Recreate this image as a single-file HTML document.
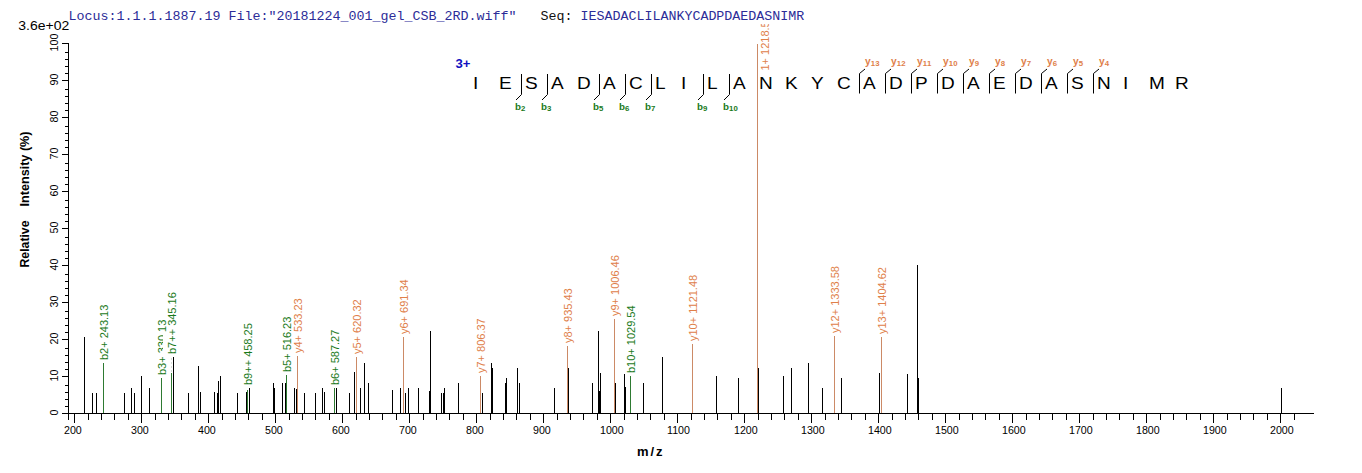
<!DOCTYPE html><html><head><meta charset="utf-8"><style>html,body{margin:0;padding:0;background:#fff;overflow:hidden}svg{display:block}</style></head><body>
<svg width="1362" height="473" viewBox="0 0 1362 473" shape-rendering="crispEdges">
<rect x="0" y="0" width="1362" height="473" fill="#fff"/>
<defs><clipPath id="pc"><rect x="0" y="24" width="1362" height="449"/></clipPath></defs>
<text x="68.5" y="20" font-family="Liberation Mono" font-size="13.33" fill="#2c2c98" xml:space="preserve">Locus:1.1.1.1887.19 File:"20181224_001_gel_CSB_2RD.wiff"   <tspan fill="#111">Seq:</tspan> IESADACLILANKYCADPDAEDASNIMR</text>
<text x="18.3" y="30" font-family="Liberation Sans" font-size="13.33" textLength="51" lengthAdjust="spacingAndGlyphs" fill="#000">3.6e+02</text>
<rect x="62" y="413" width="1252" height="1" fill="#000"/>
<rect x="68" y="43" width="1" height="377" fill="#000"/>
<rect x="62" y="413" width="6" height="1" fill="#000"/>
<rect x="65" y="406" width="3" height="1" fill="#000"/>
<rect x="65" y="399" width="3" height="1" fill="#000"/>
<rect x="65" y="392" width="3" height="1" fill="#000"/>
<rect x="65" y="385" width="3" height="1" fill="#000"/>
<text transform="translate(58,412.5) rotate(-90)" text-anchor="middle" font-family="Liberation Sans" font-size="10.67" fill="#000">0</text>
<rect x="62" y="376" width="6" height="1" fill="#000"/>
<rect x="65" y="369" width="3" height="1" fill="#000"/>
<rect x="65" y="362" width="3" height="1" fill="#000"/>
<rect x="65" y="355" width="3" height="1" fill="#000"/>
<rect x="65" y="348" width="3" height="1" fill="#000"/>
<text transform="translate(58,375.5) rotate(-90)" text-anchor="middle" font-family="Liberation Sans" font-size="10.67" fill="#000">10</text>
<rect x="62" y="339" width="6" height="1" fill="#000"/>
<rect x="65" y="332" width="3" height="1" fill="#000"/>
<rect x="65" y="325" width="3" height="1" fill="#000"/>
<rect x="65" y="318" width="3" height="1" fill="#000"/>
<rect x="65" y="311" width="3" height="1" fill="#000"/>
<text transform="translate(58,338.5) rotate(-90)" text-anchor="middle" font-family="Liberation Sans" font-size="10.67" fill="#000">20</text>
<rect x="62" y="302" width="6" height="1" fill="#000"/>
<rect x="65" y="295" width="3" height="1" fill="#000"/>
<rect x="65" y="288" width="3" height="1" fill="#000"/>
<rect x="65" y="281" width="3" height="1" fill="#000"/>
<rect x="65" y="274" width="3" height="1" fill="#000"/>
<text transform="translate(58,301.5) rotate(-90)" text-anchor="middle" font-family="Liberation Sans" font-size="10.67" fill="#000">30</text>
<rect x="62" y="265" width="6" height="1" fill="#000"/>
<rect x="65" y="258" width="3" height="1" fill="#000"/>
<rect x="65" y="251" width="3" height="1" fill="#000"/>
<rect x="65" y="244" width="3" height="1" fill="#000"/>
<rect x="65" y="237" width="3" height="1" fill="#000"/>
<text transform="translate(58,264.5) rotate(-90)" text-anchor="middle" font-family="Liberation Sans" font-size="10.67" fill="#000">40</text>
<rect x="62" y="228" width="6" height="1" fill="#000"/>
<rect x="65" y="221" width="3" height="1" fill="#000"/>
<rect x="65" y="214" width="3" height="1" fill="#000"/>
<rect x="65" y="207" width="3" height="1" fill="#000"/>
<rect x="65" y="200" width="3" height="1" fill="#000"/>
<text transform="translate(58,227.5) rotate(-90)" text-anchor="middle" font-family="Liberation Sans" font-size="10.67" fill="#000">50</text>
<rect x="62" y="191" width="6" height="1" fill="#000"/>
<rect x="65" y="184" width="3" height="1" fill="#000"/>
<rect x="65" y="177" width="3" height="1" fill="#000"/>
<rect x="65" y="170" width="3" height="1" fill="#000"/>
<rect x="65" y="163" width="3" height="1" fill="#000"/>
<text transform="translate(58,190.5) rotate(-90)" text-anchor="middle" font-family="Liberation Sans" font-size="10.67" fill="#000">60</text>
<rect x="62" y="154" width="6" height="1" fill="#000"/>
<rect x="65" y="147" width="3" height="1" fill="#000"/>
<rect x="65" y="140" width="3" height="1" fill="#000"/>
<rect x="65" y="133" width="3" height="1" fill="#000"/>
<rect x="65" y="126" width="3" height="1" fill="#000"/>
<text transform="translate(58,153.5) rotate(-90)" text-anchor="middle" font-family="Liberation Sans" font-size="10.67" fill="#000">70</text>
<rect x="62" y="117" width="6" height="1" fill="#000"/>
<rect x="65" y="110" width="3" height="1" fill="#000"/>
<rect x="65" y="103" width="3" height="1" fill="#000"/>
<rect x="65" y="96" width="3" height="1" fill="#000"/>
<rect x="65" y="89" width="3" height="1" fill="#000"/>
<text transform="translate(58,116.5) rotate(-90)" text-anchor="middle" font-family="Liberation Sans" font-size="10.67" fill="#000">80</text>
<rect x="62" y="80" width="6" height="1" fill="#000"/>
<rect x="65" y="73" width="3" height="1" fill="#000"/>
<rect x="65" y="66" width="3" height="1" fill="#000"/>
<rect x="65" y="59" width="3" height="1" fill="#000"/>
<rect x="65" y="52" width="3" height="1" fill="#000"/>
<text transform="translate(58,79.5) rotate(-90)" text-anchor="middle" font-family="Liberation Sans" font-size="10.67" fill="#000">90</text>
<rect x="62" y="43" width="6" height="1" fill="#000"/>
<text transform="translate(58,42.5) rotate(-90)" text-anchor="middle" font-family="Liberation Sans" font-size="10.67" fill="#000">100</text>
<rect x="74" y="414" width="1" height="9" fill="#000"/>
<text x="64" y="434" font-family="Liberation Sans" font-size="10.67" fill="#000">200</text>
<rect x="88" y="414" width="1" height="6" fill="#000"/>
<rect x="101" y="414" width="1" height="6" fill="#000"/>
<rect x="114" y="414" width="1" height="6" fill="#000"/>
<rect x="128" y="414" width="1" height="6" fill="#000"/>
<rect x="141" y="414" width="1" height="9" fill="#000"/>
<text x="131" y="434" font-family="Liberation Sans" font-size="10.67" fill="#000">300</text>
<rect x="155" y="414" width="1" height="6" fill="#000"/>
<rect x="168" y="414" width="1" height="6" fill="#000"/>
<rect x="181" y="414" width="1" height="6" fill="#000"/>
<rect x="195" y="414" width="1" height="6" fill="#000"/>
<rect x="208" y="414" width="1" height="9" fill="#000"/>
<text x="198" y="434" font-family="Liberation Sans" font-size="10.67" fill="#000">400</text>
<rect x="222" y="414" width="1" height="6" fill="#000"/>
<rect x="235" y="414" width="1" height="6" fill="#000"/>
<rect x="248" y="414" width="1" height="6" fill="#000"/>
<rect x="262" y="414" width="1" height="6" fill="#000"/>
<rect x="275" y="414" width="1" height="9" fill="#000"/>
<text x="265" y="434" font-family="Liberation Sans" font-size="10.67" fill="#000">500</text>
<rect x="289" y="414" width="1" height="6" fill="#000"/>
<rect x="302" y="414" width="1" height="6" fill="#000"/>
<rect x="315" y="414" width="1" height="6" fill="#000"/>
<rect x="329" y="414" width="1" height="6" fill="#000"/>
<rect x="342" y="414" width="1" height="9" fill="#000"/>
<text x="332" y="434" font-family="Liberation Sans" font-size="10.67" fill="#000">600</text>
<rect x="356" y="414" width="1" height="6" fill="#000"/>
<rect x="369" y="414" width="1" height="6" fill="#000"/>
<rect x="382" y="414" width="1" height="6" fill="#000"/>
<rect x="396" y="414" width="1" height="6" fill="#000"/>
<rect x="409" y="414" width="1" height="9" fill="#000"/>
<text x="399" y="434" font-family="Liberation Sans" font-size="10.67" fill="#000">700</text>
<rect x="423" y="414" width="1" height="6" fill="#000"/>
<rect x="436" y="414" width="1" height="6" fill="#000"/>
<rect x="449" y="414" width="1" height="6" fill="#000"/>
<rect x="463" y="414" width="1" height="6" fill="#000"/>
<rect x="476" y="414" width="1" height="9" fill="#000"/>
<text x="466" y="434" font-family="Liberation Sans" font-size="10.67" fill="#000">800</text>
<rect x="490" y="414" width="1" height="6" fill="#000"/>
<rect x="503" y="414" width="1" height="6" fill="#000"/>
<rect x="516" y="414" width="1" height="6" fill="#000"/>
<rect x="530" y="414" width="1" height="6" fill="#000"/>
<rect x="543" y="414" width="1" height="9" fill="#000"/>
<text x="533" y="434" font-family="Liberation Sans" font-size="10.67" fill="#000">900</text>
<rect x="557" y="414" width="1" height="6" fill="#000"/>
<rect x="570" y="414" width="1" height="6" fill="#000"/>
<rect x="583" y="414" width="1" height="6" fill="#000"/>
<rect x="597" y="414" width="1" height="6" fill="#000"/>
<rect x="610" y="414" width="1" height="9" fill="#000"/>
<text x="600" y="434" font-family="Liberation Sans" font-size="10.67" fill="#000">1000</text>
<rect x="624" y="414" width="1" height="6" fill="#000"/>
<rect x="637" y="414" width="1" height="6" fill="#000"/>
<rect x="650" y="414" width="1" height="6" fill="#000"/>
<rect x="664" y="414" width="1" height="6" fill="#000"/>
<rect x="677" y="414" width="1" height="9" fill="#000"/>
<text x="667" y="434" font-family="Liberation Sans" font-size="10.67" fill="#000">1100</text>
<rect x="691" y="414" width="1" height="6" fill="#000"/>
<rect x="704" y="414" width="1" height="6" fill="#000"/>
<rect x="717" y="414" width="1" height="6" fill="#000"/>
<rect x="731" y="414" width="1" height="6" fill="#000"/>
<rect x="744" y="414" width="1" height="9" fill="#000"/>
<text x="734" y="434" font-family="Liberation Sans" font-size="10.67" fill="#000">1200</text>
<rect x="758" y="414" width="1" height="6" fill="#000"/>
<rect x="771" y="414" width="1" height="6" fill="#000"/>
<rect x="784" y="414" width="1" height="6" fill="#000"/>
<rect x="798" y="414" width="1" height="6" fill="#000"/>
<rect x="811" y="414" width="1" height="9" fill="#000"/>
<text x="801" y="434" font-family="Liberation Sans" font-size="10.67" fill="#000">1300</text>
<rect x="825" y="414" width="1" height="6" fill="#000"/>
<rect x="838" y="414" width="1" height="6" fill="#000"/>
<rect x="851" y="414" width="1" height="6" fill="#000"/>
<rect x="865" y="414" width="1" height="6" fill="#000"/>
<rect x="878" y="414" width="1" height="9" fill="#000"/>
<text x="868" y="434" font-family="Liberation Sans" font-size="10.67" fill="#000">1400</text>
<rect x="892" y="414" width="1" height="6" fill="#000"/>
<rect x="905" y="414" width="1" height="6" fill="#000"/>
<rect x="918" y="414" width="1" height="6" fill="#000"/>
<rect x="932" y="414" width="1" height="6" fill="#000"/>
<rect x="945" y="414" width="1" height="9" fill="#000"/>
<text x="935" y="434" font-family="Liberation Sans" font-size="10.67" fill="#000">1500</text>
<rect x="959" y="414" width="1" height="6" fill="#000"/>
<rect x="972" y="414" width="1" height="6" fill="#000"/>
<rect x="985" y="414" width="1" height="6" fill="#000"/>
<rect x="999" y="414" width="1" height="6" fill="#000"/>
<rect x="1012" y="414" width="1" height="9" fill="#000"/>
<text x="1002" y="434" font-family="Liberation Sans" font-size="10.67" fill="#000">1600</text>
<rect x="1026" y="414" width="1" height="6" fill="#000"/>
<rect x="1039" y="414" width="1" height="6" fill="#000"/>
<rect x="1052" y="414" width="1" height="6" fill="#000"/>
<rect x="1066" y="414" width="1" height="6" fill="#000"/>
<rect x="1079" y="414" width="1" height="9" fill="#000"/>
<text x="1069" y="434" font-family="Liberation Sans" font-size="10.67" fill="#000">1700</text>
<rect x="1093" y="414" width="1" height="6" fill="#000"/>
<rect x="1106" y="414" width="1" height="6" fill="#000"/>
<rect x="1119" y="414" width="1" height="6" fill="#000"/>
<rect x="1133" y="414" width="1" height="6" fill="#000"/>
<rect x="1146" y="414" width="1" height="9" fill="#000"/>
<text x="1136" y="434" font-family="Liberation Sans" font-size="10.67" fill="#000">1800</text>
<rect x="1160" y="414" width="1" height="6" fill="#000"/>
<rect x="1173" y="414" width="1" height="6" fill="#000"/>
<rect x="1186" y="414" width="1" height="6" fill="#000"/>
<rect x="1200" y="414" width="1" height="6" fill="#000"/>
<rect x="1213" y="414" width="1" height="9" fill="#000"/>
<text x="1203" y="434" font-family="Liberation Sans" font-size="10.67" fill="#000">1900</text>
<rect x="1227" y="414" width="1" height="6" fill="#000"/>
<rect x="1240" y="414" width="1" height="6" fill="#000"/>
<rect x="1253" y="414" width="1" height="6" fill="#000"/>
<rect x="1267" y="414" width="1" height="6" fill="#000"/>
<rect x="1280" y="414" width="1" height="9" fill="#000"/>
<text x="1270" y="434" font-family="Liberation Sans" font-size="10.67" fill="#000">2000</text>
<rect x="1294" y="414" width="1" height="6" fill="#000"/>
<text x="637" y="456" font-family="Liberation Sans" font-weight="bold" font-size="13" textLength="25.5" lengthAdjust="spacing" fill="#000">m/z</text>
<text transform="translate(29,267.5) rotate(-90)" font-family="Liberation Sans" font-weight="bold" font-size="12.2" textLength="47" lengthAdjust="spacingAndGlyphs" fill="#000">Relative</text>
<text transform="translate(29,206.5) rotate(-90)" font-family="Liberation Sans" font-weight="bold" font-size="12.2" textLength="75" lengthAdjust="spacingAndGlyphs" fill="#000">Intensity (%)</text>
<rect x="84" y="337" width="1" height="76" fill="#000"/>
<rect x="92" y="393" width="1" height="20" fill="#000"/>
<rect x="96" y="393" width="1" height="20" fill="#000"/>
<rect x="124" y="393" width="1" height="20" fill="#000"/>
<rect x="131" y="388" width="1" height="25" fill="#000"/>
<rect x="134" y="393" width="1" height="20" fill="#000"/>
<rect x="141" y="376" width="1" height="37" fill="#000"/>
<rect x="149" y="388" width="1" height="25" fill="#000"/>
<rect x="173" y="357" width="1" height="56" fill="#000"/>
<rect x="188" y="393" width="1" height="20" fill="#000"/>
<rect x="198" y="366" width="1" height="47" fill="#000"/>
<rect x="200" y="392" width="1" height="21" fill="#000"/>
<rect x="214" y="392" width="1" height="21" fill="#000"/>
<rect x="217" y="393" width="1" height="20" fill="#000"/>
<rect x="218" y="381" width="1" height="32" fill="#000"/>
<rect x="220" y="376" width="1" height="37" fill="#000"/>
<rect x="237" y="393" width="1" height="20" fill="#000"/>
<rect x="246" y="392" width="1" height="21" fill="#000"/>
<rect x="249" y="388" width="1" height="25" fill="#000"/>
<rect x="273" y="383" width="1" height="30" fill="#000"/>
<rect x="274" y="388" width="1" height="25" fill="#000"/>
<rect x="282" y="383" width="1" height="30" fill="#000"/>
<rect x="285" y="383" width="1" height="30" fill="#000"/>
<rect x="294" y="388" width="1" height="25" fill="#000"/>
<rect x="296" y="389" width="1" height="24" fill="#000"/>
<rect x="304" y="393" width="1" height="20" fill="#000"/>
<rect x="315" y="393" width="1" height="20" fill="#000"/>
<rect x="322" y="388" width="1" height="25" fill="#000"/>
<rect x="324" y="392" width="1" height="21" fill="#000"/>
<rect x="336" y="388" width="1" height="25" fill="#000"/>
<rect x="349" y="393" width="1" height="20" fill="#000"/>
<rect x="354" y="372" width="1" height="41" fill="#000"/>
<rect x="360" y="388" width="1" height="25" fill="#000"/>
<rect x="364" y="363" width="1" height="50" fill="#000"/>
<rect x="368" y="383" width="1" height="30" fill="#000"/>
<rect x="392" y="390" width="1" height="23" fill="#000"/>
<rect x="400" y="388" width="1" height="25" fill="#000"/>
<rect x="405" y="393" width="1" height="20" fill="#000"/>
<rect x="408" y="388" width="1" height="25" fill="#000"/>
<rect x="418" y="388" width="1" height="25" fill="#000"/>
<rect x="429" y="391" width="1" height="22" fill="#000"/>
<rect x="430" y="331" width="1" height="82" fill="#000"/>
<rect x="441" y="393" width="1" height="20" fill="#000"/>
<rect x="443" y="393" width="1" height="20" fill="#000"/>
<rect x="444" y="388" width="1" height="25" fill="#000"/>
<rect x="458" y="383" width="1" height="30" fill="#000"/>
<rect x="482" y="393" width="1" height="20" fill="#000"/>
<rect x="491" y="363" width="1" height="50" fill="#000"/>
<rect x="492" y="368" width="1" height="45" fill="#000"/>
<rect x="505" y="383" width="1" height="30" fill="#000"/>
<rect x="506" y="378" width="1" height="35" fill="#000"/>
<rect x="517" y="368" width="1" height="45" fill="#000"/>
<rect x="519" y="383" width="1" height="30" fill="#000"/>
<rect x="554" y="388" width="1" height="25" fill="#000"/>
<rect x="568" y="368" width="1" height="45" fill="#000"/>
<rect x="592" y="383" width="1" height="30" fill="#000"/>
<rect x="598" y="331" width="1" height="82" fill="#000"/>
<rect x="599" y="391" width="1" height="22" fill="#000"/>
<rect x="600" y="373" width="1" height="40" fill="#000"/>
<rect x="615" y="383" width="1" height="30" fill="#000"/>
<rect x="624" y="374" width="1" height="39" fill="#000"/>
<rect x="625" y="387" width="1" height="26" fill="#000"/>
<rect x="643" y="383" width="1" height="30" fill="#000"/>
<rect x="662" y="357" width="1" height="56" fill="#000"/>
<rect x="716" y="376" width="1" height="37" fill="#000"/>
<rect x="738" y="378" width="1" height="35" fill="#000"/>
<rect x="758" y="368" width="1" height="45" fill="#000"/>
<rect x="783" y="376" width="1" height="37" fill="#000"/>
<rect x="791" y="368" width="1" height="45" fill="#000"/>
<rect x="808" y="363" width="1" height="50" fill="#000"/>
<rect x="822" y="388" width="1" height="25" fill="#000"/>
<rect x="841" y="378" width="1" height="35" fill="#000"/>
<rect x="879" y="373" width="1" height="40" fill="#000"/>
<rect x="907" y="374" width="1" height="39" fill="#000"/>
<rect x="917" y="265" width="1" height="148" fill="#000"/>
<rect x="918" y="378" width="1" height="35" fill="#000"/>
<rect x="1281" y="388" width="1" height="25" fill="#000"/>
<rect x="103" y="363" width="1" height="50" fill="#2e7a32"/>
<rect x="161" y="378" width="1" height="35" fill="#2e7a32"/>
<rect x="171" y="373" width="1" height="40" fill="#2e7a32"/>
<rect x="247" y="390" width="1" height="23" fill="#2e7a32"/>
<rect x="286" y="375" width="1" height="38" fill="#2e7a32"/>
<rect x="334" y="388" width="1" height="25" fill="#2e7a32"/>
<rect x="630" y="376" width="1" height="37" fill="#2e7a32"/>
<rect x="297" y="356" width="1" height="57" fill="#cc8a66"/>
<rect x="356" y="357" width="1" height="56" fill="#cc8a66"/>
<rect x="403" y="337" width="1" height="76" fill="#cc8a66"/>
<rect x="480" y="376" width="1" height="37" fill="#cc8a66"/>
<rect x="567" y="346" width="1" height="67" fill="#cc8a66"/>
<rect x="614" y="319" width="1" height="94" fill="#cc8a66"/>
<rect x="692" y="344" width="1" height="69" fill="#cc8a66"/>
<rect x="757" y="44" width="1" height="369" fill="#cc8a66"/>
<rect x="834" y="336" width="1" height="77" fill="#cc8a66"/>
<rect x="881" y="337" width="1" height="76" fill="#cc8a66"/>
<path d="M171.5 358 V373" stroke="#d6ddd6" stroke-width="1" stroke-dasharray="2,2"/>
<text transform="translate(108,360) rotate(-90)" font-family="Liberation Sans" font-size="11" fill="#1a7a1a" shape-rendering="auto">b2+ 243.13</text>
<text transform="translate(166,375) rotate(-90)" font-family="Liberation Sans" font-size="11" fill="#1a7a1a" shape-rendering="auto">b3+ 330.13</text>
<rect x="162.5" y="332" width="15" height="22" fill="#fff"/>
<text transform="translate(176,354) rotate(-90)" font-family="Liberation Sans" font-size="11" fill="#1a7a1a" shape-rendering="auto">b7++ 345.16</text>
<text transform="translate(252,385) rotate(-90)" font-family="Liberation Sans" font-size="11" fill="#1a7a1a" shape-rendering="auto">b9++ 458.25</text>
<text transform="translate(291,372) rotate(-90)" font-family="Liberation Sans" font-size="11" fill="#1a7a1a" shape-rendering="auto">b5+ 516.23</text>
<text transform="translate(302,353) rotate(-90)" font-family="Liberation Sans" font-size="11" fill="#e0804a" shape-rendering="auto">y4+ 533.23</text>
<text transform="translate(339,385) rotate(-90)" font-family="Liberation Sans" font-size="11" fill="#1a7a1a" shape-rendering="auto">b6+ 587.27</text>
<text transform="translate(361,354) rotate(-90)" font-family="Liberation Sans" font-size="11" fill="#e0804a" shape-rendering="auto">y5+ 620.32</text>
<text transform="translate(408,334) rotate(-90)" font-family="Liberation Sans" font-size="11" fill="#e0804a" shape-rendering="auto">y6+ 691.34</text>
<text transform="translate(485,373) rotate(-90)" font-family="Liberation Sans" font-size="11" fill="#e0804a" shape-rendering="auto">y7+ 806.37</text>
<text transform="translate(572,343) rotate(-90)" font-family="Liberation Sans" font-size="11" fill="#e0804a" shape-rendering="auto">y8+ 935.43</text>
<text transform="translate(619,316) rotate(-90)" font-family="Liberation Sans" font-size="11" fill="#e0804a" shape-rendering="auto">y9+ 1006.46</text>
<text transform="translate(635,373) rotate(-90)" font-family="Liberation Sans" font-size="11" fill="#1a7a1a" shape-rendering="auto">b10+ 1029.54</text>
<text transform="translate(697,341) rotate(-90)" font-family="Liberation Sans" font-size="11" fill="#e0804a" shape-rendering="auto">y10+ 1121.48</text>
<text transform="translate(839,333) rotate(-90)" font-family="Liberation Sans" font-size="11" fill="#e0804a" shape-rendering="auto">y12+ 1333.58</text>
<text transform="translate(886,334) rotate(-90)" font-family="Liberation Sans" font-size="11" fill="#e0804a" shape-rendering="auto">y13+ 1404.62</text>
<g clip-path="url(#pc)"><text transform="translate(769,70.5) rotate(-90)" font-family="Liberation Sans" font-size="11" fill="#e0804a">1+ 1218.52</text></g>
<text x="455.5" y="68" font-family="Liberation Sans" font-weight="bold" font-size="12.5" textLength="15" lengthAdjust="spacingAndGlyphs" fill="#1010c0">3+</text>
<text transform="translate(473,89) scale(1.12,1)" font-family="Liberation Sans" font-size="17" fill="#000">I</text>
<text transform="translate(499,89) scale(1.12,1)" font-family="Liberation Sans" font-size="17" fill="#000">E</text>
<text transform="translate(525,89) scale(1.12,1)" font-family="Liberation Sans" font-size="17" fill="#000">S</text>
<text transform="translate(551,89) scale(1.12,1)" font-family="Liberation Sans" font-size="17" fill="#000">A</text>
<text transform="translate(577,89) scale(1.12,1)" font-family="Liberation Sans" font-size="17" fill="#000">D</text>
<text transform="translate(603,89) scale(1.12,1)" font-family="Liberation Sans" font-size="17" fill="#000">A</text>
<text transform="translate(629,89) scale(1.12,1)" font-family="Liberation Sans" font-size="17" fill="#000">C</text>
<text transform="translate(655,89) scale(1.12,1)" font-family="Liberation Sans" font-size="17" fill="#000">L</text>
<text transform="translate(681,89) scale(1.12,1)" font-family="Liberation Sans" font-size="17" fill="#000">I</text>
<text transform="translate(707,89) scale(1.12,1)" font-family="Liberation Sans" font-size="17" fill="#000">L</text>
<text transform="translate(733,89) scale(1.12,1)" font-family="Liberation Sans" font-size="17" fill="#000">A</text>
<text transform="translate(759,89) scale(1.12,1)" font-family="Liberation Sans" font-size="17" fill="#000">N</text>
<text transform="translate(785,89) scale(1.12,1)" font-family="Liberation Sans" font-size="17" fill="#000">K</text>
<text transform="translate(811,89) scale(1.12,1)" font-family="Liberation Sans" font-size="17" fill="#000">Y</text>
<text transform="translate(837,89) scale(1.12,1)" font-family="Liberation Sans" font-size="17" fill="#000">C</text>
<text transform="translate(863,89) scale(1.12,1)" font-family="Liberation Sans" font-size="17" fill="#000">A</text>
<text transform="translate(889,89) scale(1.12,1)" font-family="Liberation Sans" font-size="17" fill="#000">D</text>
<text transform="translate(915,89) scale(1.12,1)" font-family="Liberation Sans" font-size="17" fill="#000">P</text>
<text transform="translate(941,89) scale(1.12,1)" font-family="Liberation Sans" font-size="17" fill="#000">D</text>
<text transform="translate(967,89) scale(1.12,1)" font-family="Liberation Sans" font-size="17" fill="#000">A</text>
<text transform="translate(993,89) scale(1.12,1)" font-family="Liberation Sans" font-size="17" fill="#000">E</text>
<text transform="translate(1019,89) scale(1.12,1)" font-family="Liberation Sans" font-size="17" fill="#000">D</text>
<text transform="translate(1045,89) scale(1.12,1)" font-family="Liberation Sans" font-size="17" fill="#000">A</text>
<text transform="translate(1071,89) scale(1.12,1)" font-family="Liberation Sans" font-size="17" fill="#000">S</text>
<text transform="translate(1097,89) scale(1.12,1)" font-family="Liberation Sans" font-size="17" fill="#000">N</text>
<text transform="translate(1123,89) scale(1.12,1)" font-family="Liberation Sans" font-size="17" fill="#000">I</text>
<text transform="translate(1149,89) scale(1.12,1)" font-family="Liberation Sans" font-size="17" fill="#000">M</text>
<text transform="translate(1175,89) scale(1.12,1)" font-family="Liberation Sans" font-size="17" fill="#000">R</text>
<path d="M521.5 74 V94.5 L516 100" stroke="#000" stroke-width="1" fill="none" shape-rendering="auto"/>
<text x="515" y="110" font-family="Liberation Sans" font-weight="bold" font-size="9.8" fill="#1a7a1a">b<tspan font-size="7.8" dy="0.8" letter-spacing="0.3">2</tspan></text>
<path d="M547.5 74 V94.5 L542 100" stroke="#000" stroke-width="1" fill="none" shape-rendering="auto"/>
<text x="541" y="110" font-family="Liberation Sans" font-weight="bold" font-size="9.8" fill="#1a7a1a">b<tspan font-size="7.8" dy="0.8" letter-spacing="0.3">3</tspan></text>
<path d="M599.5 74 V94.5 L594 100" stroke="#000" stroke-width="1" fill="none" shape-rendering="auto"/>
<text x="593" y="110" font-family="Liberation Sans" font-weight="bold" font-size="9.8" fill="#1a7a1a">b<tspan font-size="7.8" dy="0.8" letter-spacing="0.3">5</tspan></text>
<path d="M625.5 74 V94.5 L620 100" stroke="#000" stroke-width="1" fill="none" shape-rendering="auto"/>
<text x="619" y="110" font-family="Liberation Sans" font-weight="bold" font-size="9.8" fill="#1a7a1a">b<tspan font-size="7.8" dy="0.8" letter-spacing="0.3">6</tspan></text>
<path d="M651.5 74 V94.5 L646 100" stroke="#000" stroke-width="1" fill="none" shape-rendering="auto"/>
<text x="645" y="110" font-family="Liberation Sans" font-weight="bold" font-size="9.8" fill="#1a7a1a">b<tspan font-size="7.8" dy="0.8" letter-spacing="0.3">7</tspan></text>
<path d="M703.5 74 V94.5 L698 100" stroke="#000" stroke-width="1" fill="none" shape-rendering="auto"/>
<text x="697" y="110" font-family="Liberation Sans" font-weight="bold" font-size="9.8" fill="#1a7a1a">b<tspan font-size="7.8" dy="0.8" letter-spacing="0.3">9</tspan></text>
<path d="M729.5 74 V94.5 L724 100" stroke="#000" stroke-width="1" fill="none" shape-rendering="auto"/>
<text x="723" y="110" font-family="Liberation Sans" font-weight="bold" font-size="9.8" fill="#1a7a1a">b<tspan font-size="7.8" dy="0.8" letter-spacing="0.3">10</tspan></text>
<path d="M859.5 93.5 V73.5 L865 69" stroke="#000" stroke-width="1" fill="none" shape-rendering="auto"/>
<text x="865" y="65" font-family="Liberation Sans" font-weight="bold" font-size="10.2" fill="#e0804a">y<tspan font-size="7.8" dy="0.8" letter-spacing="0.3">13</tspan></text>
<path d="M885.5 93.5 V73.5 L891 69" stroke="#000" stroke-width="1" fill="none" shape-rendering="auto"/>
<text x="891" y="65" font-family="Liberation Sans" font-weight="bold" font-size="10.2" fill="#e0804a">y<tspan font-size="7.8" dy="0.8" letter-spacing="0.3">12</tspan></text>
<path d="M911.5 93.5 V73.5 L917 69" stroke="#000" stroke-width="1" fill="none" shape-rendering="auto"/>
<text x="917" y="65" font-family="Liberation Sans" font-weight="bold" font-size="10.2" fill="#e0804a">y<tspan font-size="7.8" dy="0.8" letter-spacing="0.3">11</tspan></text>
<path d="M937.5 93.5 V73.5 L943 69" stroke="#000" stroke-width="1" fill="none" shape-rendering="auto"/>
<text x="943" y="65" font-family="Liberation Sans" font-weight="bold" font-size="10.2" fill="#e0804a">y<tspan font-size="7.8" dy="0.8" letter-spacing="0.3">10</tspan></text>
<path d="M963.5 93.5 V73.5 L969 69" stroke="#000" stroke-width="1" fill="none" shape-rendering="auto"/>
<text x="969" y="65" font-family="Liberation Sans" font-weight="bold" font-size="10.2" fill="#e0804a">y<tspan font-size="7.8" dy="0.8" letter-spacing="0.3">9</tspan></text>
<path d="M989.5 93.5 V73.5 L995 69" stroke="#000" stroke-width="1" fill="none" shape-rendering="auto"/>
<text x="995" y="65" font-family="Liberation Sans" font-weight="bold" font-size="10.2" fill="#e0804a">y<tspan font-size="7.8" dy="0.8" letter-spacing="0.3">8</tspan></text>
<path d="M1015.5 93.5 V73.5 L1021 69" stroke="#000" stroke-width="1" fill="none" shape-rendering="auto"/>
<text x="1021" y="65" font-family="Liberation Sans" font-weight="bold" font-size="10.2" fill="#e0804a">y<tspan font-size="7.8" dy="0.8" letter-spacing="0.3">7</tspan></text>
<path d="M1041.5 93.5 V73.5 L1047 69" stroke="#000" stroke-width="1" fill="none" shape-rendering="auto"/>
<text x="1047" y="65" font-family="Liberation Sans" font-weight="bold" font-size="10.2" fill="#e0804a">y<tspan font-size="7.8" dy="0.8" letter-spacing="0.3">6</tspan></text>
<path d="M1067.5 93.5 V73.5 L1073 69" stroke="#000" stroke-width="1" fill="none" shape-rendering="auto"/>
<text x="1073" y="65" font-family="Liberation Sans" font-weight="bold" font-size="10.2" fill="#e0804a">y<tspan font-size="7.8" dy="0.8" letter-spacing="0.3">5</tspan></text>
<path d="M1093.5 93.5 V73.5 L1099 69" stroke="#000" stroke-width="1" fill="none" shape-rendering="auto"/>
<text x="1099" y="65" font-family="Liberation Sans" font-weight="bold" font-size="10.2" fill="#e0804a">y<tspan font-size="7.8" dy="0.8" letter-spacing="0.3">4</tspan></text>
</svg></body></html>
